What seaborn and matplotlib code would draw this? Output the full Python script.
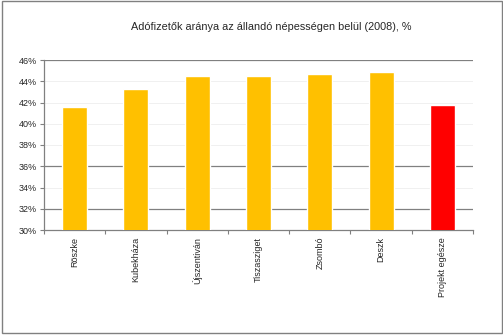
import matplotlib
matplotlib.use("Agg")
import matplotlib.pyplot as plt
import seaborn as sns
import pandas as pd
from matplotlib.patches import Rectangle

categories = ["Röszke", "Kubekháza", "Újszentiván", "Tiszasziget", "Zsombó", "Deszk", "Projekt egésze"]
values = [41.6, 43.3, 44.5, 44.5, 44.7, 44.9, 41.8]
colors = ["#FFC000", "#FFC000", "#FFC000", "#FFC000", "#FFC000", "#FFC000", "#FF0000"]
yticks = [30, 32, 34, 36, 38, 40, 42, 44, 46]
title = "Adófizetők aránya az állandó népességen belül (2008), %"

sns.set_style("white")
plt.rcParams["font.family"] = ["Liberation Sans", "DejaVu Sans"]

df = pd.DataFrame({"cat": categories, "val": values})

fig = plt.figure(figsize=(5.03, 3.35), dpi=100)
ax = fig.add_axes([44 / 503, 1 - 230 / 335, (473 - 44) / 503, (230 - 60) / 335])

sns.barplot(data=df, x="cat", y="val", hue="cat", palette=colors, legend=False,
            width=0.41, saturation=1, ax=ax, zorder=3)

ax.set_ylim(30, 46)
ax.set_xlim(-0.5, len(categories) - 0.5)
ax.set_yticks(yticks)
ax.set_yticklabels([f"{t}%" for t in yticks], fontsize=6.5)
for y in [32, 36, 46]:
    ax.axhline(y, color="#808080", lw=0.9, zorder=1)
for y in [34, 38, 40, 42, 44]:
    ax.axhline(y, color="#eeeeee", lw=0.6, zorder=1)

ax.set_xticks(range(len(categories)))
ax.set_xticklabels(categories, rotation=90, fontsize=6.5, va="top")
ax.tick_params(axis="x", length=0, pad=5)
ax.tick_params(axis="y", length=3, width=0.8, color="#808080", direction="out", pad=2, left=True)
# category boundary ticks
ax.set_xticks([i - 0.5 for i in range(len(categories) + 1)], minor=True)
ax.tick_params(axis="x", which="minor", length=3, width=0.8, color="#808080", direction="out", bottom=True)

for s in ["top", "right"]:
    ax.spines[s].set_visible(False)
for s in ["left", "bottom"]:
    ax.spines[s].set_color("#808080")
    ax.spines[s].set_linewidth(0.9)

ax.set_xlabel("")
ax.set_ylabel("")

fig.text(271 / 503, 1 - 27 / 335, title, ha="center", va="center", fontsize=7.8)

fig.patches.append(Rectangle((1.5 / 503, 2 / 335), 500.5 / 503, 332.5 / 335, transform=fig.transFigure,
                             fill=False, edgecolor="#808080", lw=1.0))

fig.savefig("out.png", dpi=100)
